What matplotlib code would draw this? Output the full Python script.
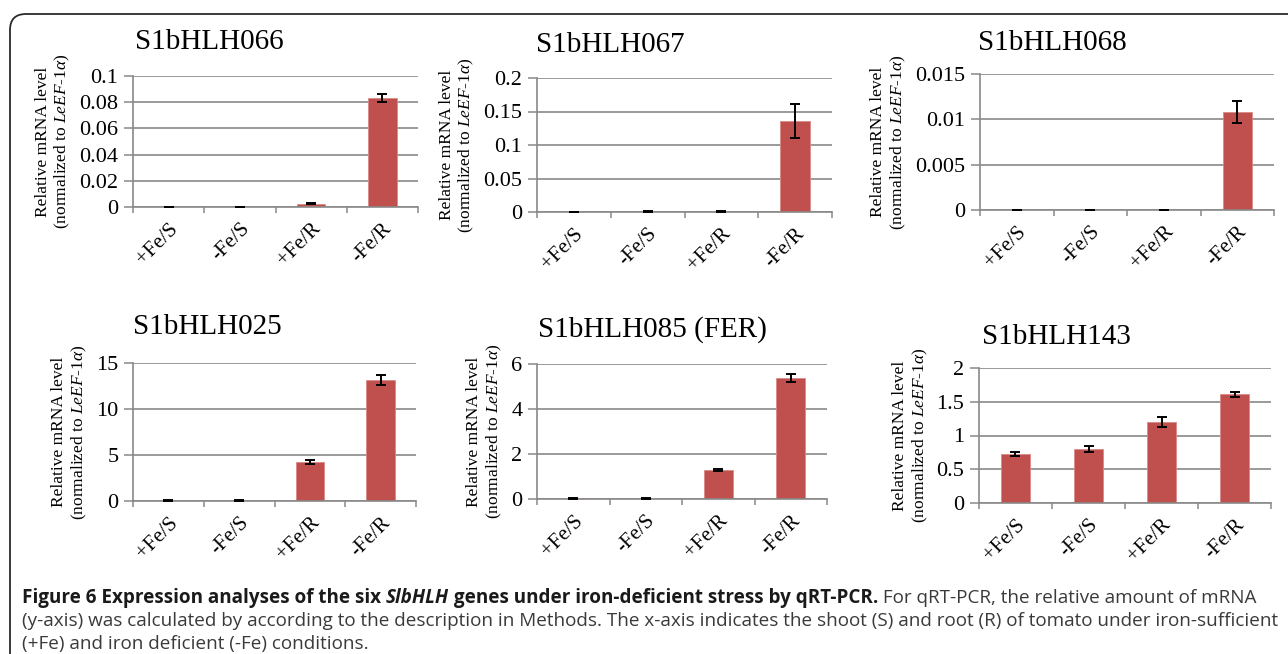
import matplotlib
matplotlib.use("Agg")
import matplotlib.pyplot as plt
from matplotlib import font_manager
from matplotlib.patches import FancyBboxPatch
from matplotlib.transforms import IdentityTransform

# conditions on the x axis
categories = ["+Fe/S", "-Fe/S", "+Fe/R", "-Fe/R"]

# gene names (panel titles)
genes = ["S1bHLH066", "S1bHLH067", "S1bHLH068",
         "S1bHLH025", "S1bHLH085 (FER)", "S1bHLH143"]

# relative mRNA level
vals_066 = [0.0001, 0.0001, 0.0025, 0.0832]
err_066 = [0.00005, 0.00005, 0.0003, 0.0030]
vals_067 = [0.0003, 0.0008, 0.0008, 0.136]
err_067 = [0.0001, 0.0002, 0.0002, 0.025]
vals_068 = [0.00002, 0.00002, 0.00002, 0.0108]
err_068 = [0.00001, 0.00001, 0.00001, 0.0012]
vals_025 = [0.05, 0.05, 4.25, 13.2]
err_025 = [0.02, 0.02, 0.18, 0.55]
vals_085 = [0.03, 0.03, 1.29, 5.38]
err_085 = [0.01, 0.01, 0.05, 0.17]
vals_143 = [0.72, 0.80, 1.20, 1.61]
err_143 = [0.03, 0.04, 0.07, 0.04]

# y ticks and their labels as printed
yt_066 = [0, 0.02, 0.04, 0.06, 0.08, 0.1]
yl_066 = ["0", "0.02", "0.04", "0.06", "0.08", "0.1"]
yt_067 = [0, 0.05, 0.1, 0.15, 0.2]
yl_067 = ["0", "0.05", "0.1", "0.15", "0.2"]
yt_068 = [0, 0.005, 0.01, 0.015]
yl_068 = ["0", "0.005", "0.01", "0.015"]
yt_025 = [0, 5, 10, 15]
yl_025 = ["0", "5", "10", "15"]
yt_085 = [0, 2, 4, 6]
yl_085 = ["0", "2", "4", "6"]
yt_143 = [0, 0.5, 1, 1.5, 2]
yl_143 = ["0", "0.5", "1", "1.5", "2"]

values = [vals_066, vals_067, vals_068, vals_025, vals_085, vals_143]
errors = [err_066, err_067, err_068, err_025, err_085, err_143]
yticks = [yt_066, yt_067, yt_068, yt_025, yt_085, yt_143]
ylabs = [yl_066, yl_067, yl_068, yl_025, yl_085, yl_143]

plt.rcParams["font.family"] = ["Liberation Serif", "DejaVu Serif"]
plt.rcParams["mathtext.fontset"] = "custom"
plt.rcParams["mathtext.rm"] = "Liberation Serif"
plt.rcParams["mathtext.it"] = "Liberation Serif:italic"

W, H = 1288, 654
fig = plt.figure(figsize=(W / 100, H / 100), dpi=100)

# axes boxes in pixels: left, right, top, bottom
boxes = [(133, 418, 76, 207), (537, 832, 78, 212), (980, 1274, 74, 210),
         (133, 416, 363, 501), (537, 827, 364, 499), (979, 1271, 368, 503)]
# title positions (left, vertical centre) in pixels
title_pos = [(135, 42), (536, 45), (978, 43), (133, 327), (538, 330), (982, 337)]

grey = "#898989"
bar_col = "#C0504D"

for i in range(6):
    l, r, t, b = boxes[i]
    ax = fig.add_axes([l / W, 1 - b / H, (r - l) / W, (b - t) / H])
    x = range(len(categories))
    ax.bar(x, values[i], width=0.4, color=bar_col, edgecolor="#D98A88",
           linewidth=0.6, zorder=2)
    ax.errorbar(x, values[i], yerr=errors[i], fmt="none", ecolor="black",
                elinewidth=1.4, capsize=3.8, capthick=1.4, zorder=3)
    ax.set_xlim(-0.5, 3.5)
    ax.set_ylim(yticks[i][0], yticks[i][-1])
    ax.set_yticks(yticks[i])
    ax.set_yticklabels(ylabs[i])
    ax.set_xticks(list(x))
    ax.set_xticklabels(categories, rotation=45, ha="right", va="top",
                       rotation_mode="anchor")
    ax.set_xticks([-0.5, 0.5, 1.5, 2.5, 3.5], minor=True)
    ax.tick_params(axis="x", which="major", length=0, labelsize=15, pad=9)
    ax.tick_params(axis="x", which="minor", length=4.5, width=1.1, color=grey)
    ax.tick_params(axis="y", length=6.5, width=1.1, color=grey, labelsize=16,
                   pad=4)
    ax.yaxis.grid(True, color=grey, linewidth=1.2)
    ax.set_axisbelow(True)
    for s in ["top", "right"]:
        ax.spines[s].set_visible(False)
    for s in ["left", "bottom"]:
        ax.spines[s].set_color(grey)
        ax.spines[s].set_linewidth(1.2)
    ax.set_ylabel("Relative mRNA level\n(normalized to $\\mathit{LeEF}$-$\\mathit{1α}$)",
                  fontsize=12.5, linespacing=1.2, labelpad=5)
    tx, ty = title_pos[i]
    fig.text(tx / W, 1 - ty / H, genes[i], fontsize=21, ha="left", va="center")

# rounded frame around the figure (runs off the right and bottom edge)
frame = FancyBboxPatch((10, -60), 1320, H - 14 + 60,
                       boxstyle="round,pad=0,rounding_size=16",
                       transform=IdentityTransform(), fill=False,
                       edgecolor="#2b2b2b", linewidth=1.3)
fig.patches.append(frame)

# caption
names = {f.name for f in font_manager.fontManager.ttflist}
cap_font = "Liberation Sans Narrow" if "Liberation Sans Narrow" in names else "Open Sans"
cap_size = 13.6
renderer = fig.canvas.get_renderer()


def put_runs(x, y, runs):
    for txt, weight, style, col in runs:
        t = fig.text(x / W, 1 - y / H, txt, fontsize=cap_size, family=cap_font,
                     weight=weight, style=style, color=col, va="baseline")
        x += t.get_window_extent(renderer).width


dark = "#1a1a1a"
body = "#3a3a3a"
put_runs(22, 603, [
    ("Figure 6 Expression analyses of the six ", "bold", "normal", dark),
    ("SlbHLH", "bold", "italic", dark),
    (" genes under iron-deficient stress by qRT-PCR.", "bold", "normal", dark),
    (" For qRT-PCR, the relative amount of mRNA", "normal", "normal", body),
])
put_runs(22, 626, [
    ("(y-axis) was calculated by according to the description in Methods. "
     "The x-axis indicates the shoot (S) and root (R) of tomato under iron-sufficient",
     "normal", "normal", body),
])
put_runs(22, 649, [
    ("(+Fe) and iron deficient (-Fe) conditions.", "normal", "normal", body),
])

fig.savefig("out.png", dpi=100)
